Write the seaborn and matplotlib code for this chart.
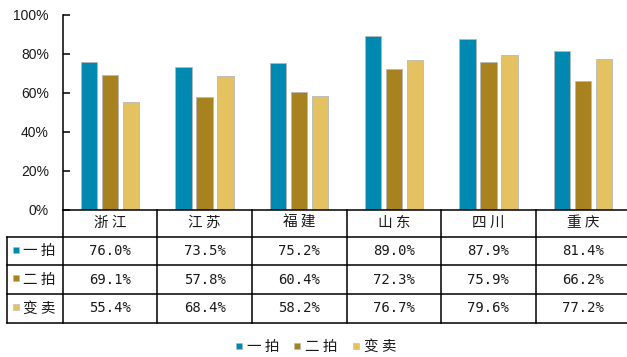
import matplotlib
matplotlib.use("Agg")
import matplotlib.pyplot as plt
import pandas as pd
import seaborn as sns
from matplotlib.lines import Line2D

# Data
provinces = ["浙江", "江苏", "福建", "山东", "四川", "重庆"]
series = ["一拍", "二拍", "变卖"]
first_auction = [76.0, 73.5, 75.2, 89.0, 87.9, 81.4]
second_auction = [69.1, 57.8, 60.4, 72.3, 75.9, 66.2]
sale = [55.4, 68.4, 58.2, 76.7, 79.6, 77.2]
y_ticks = [0, 20, 40, 60, 80, 100]
colors = ["#0089B0", "#A8821F", "#E4C262"]

values = [first_auction, second_auction, sale]
df = pd.DataFrame({
    "省份": provinces * len(series),
    "类型": [s for s in series for _ in provinces],
    "比例": [v for vals in values for v in vals],
})

sns.set_theme(style="white")
plt.rcParams["font.family"] = ["Noto Sans CJK SC", "DejaVu Sans"]
TEXT = "#1a1a1a"
LW = 1.1


def spaced(s):
    """Loosen CJK labels a little, like a wide-set Song face."""
    return " ".join(s)


W, H = 627, 357
fig = plt.figure(figsize=(W / 100, H / 100), dpi=100)


def px_box(left, top, right, bottom):
    return [left / W, 1 - bottom / H, (right - left) / W, (bottom - top) / H]


# plot area (pixel layout)
AX_L, AX_R, AX_T, AX_B = 62.7, 630.3, 15, 209.5
TBL_L, TBL_B = 7.3, 322.5
row_edges = [AX_B, 236.7, 265.3, 294.3, TBL_B]
col_px = (AX_R - AX_L) / len(provinces)

ax = fig.add_axes(px_box(AX_L, AX_T, AX_R, AX_B))
sns.barplot(data=df, x="省份", y="比例", hue="类型", order=provinces,
            hue_order=series, palette=colors, saturation=1, width=0.667,
            gap=0.22, edgecolor="#b8b8b8", linewidth=0.6, errorbar=None,
            legend=False, ax=ax)
ax.set_xlim(-0.5, len(provinces) - 0.5)
ax.set_ylim(0, 100)
ax.set_yticks(y_ticks)
ax.set_yticklabels([f"{t}%" for t in y_ticks], family="Liberation Sans",
                   fontsize=10, color=TEXT)
ax.set_xticks([])
ax.set_xlabel("")
ax.set_ylabel("")
ax.tick_params(axis="y", direction="in", length=5, width=LW, color="black",
               pad=10, left=True)
for side in ["top", "right", "bottom"]:
    ax.spines[side].set_visible(False)
ax.spines["left"].set_color("black")
ax.spines["left"].set_linewidth(LW)

# data table under the bars
tax = fig.add_axes(px_box(TBL_L, AX_B, AX_R, TBL_B))
x_left = -0.5 - (AX_L - TBL_L) / col_px
tax.set_xlim(x_left, len(provinces) - 0.5)
tax.set_ylim(TBL_B, AX_B)
tax.axis("off")

line_kw = dict(color="black", lw=LW, clip_on=False, solid_capstyle="projecting")
tax.plot([-0.5, len(provinces) - 0.5], [row_edges[0]] * 2, **line_kw)
for y in row_edges[1:]:
    tax.plot([x_left, len(provinces) - 0.5], [y, y], **line_kw)
for i in range(len(provinces) + 1):
    tax.plot([i - 0.5] * 2, [row_edges[0], row_edges[-1]], **line_kw)
tax.plot([x_left] * 2, [row_edges[1], row_edges[-1]], **line_kw)

mid = [(a + b) / 2 for a, b in zip(row_edges[:-1], row_edges[1:])]
for i, p in enumerate(provinces):
    tax.text(i, mid[0], spaced(p), ha="center", va="center", fontsize=10.5,
             color=TEXT)
for r, (name, vals, c) in enumerate(zip(series, values, colors)):
    y = mid[r + 1]
    tax.plot([x_left + 9 / col_px], [y - 1.5], marker="s", markersize=5,
             markerfacecolor=c, markeredgecolor="#b8b8b8", markeredgewidth=0.4,
             linestyle="", clip_on=False)
    tax.text(x_left + 16 / col_px, y, spaced(name), ha="left", va="center",
             fontsize=10.5, color=TEXT)
    for i, v in enumerate(vals):
        tax.text(i, y, f"{v:.1f}%", ha="center", va="center",
                 family="DejaVu Sans Mono", fontsize=10, color=TEXT)

# legend
handles = [Line2D([], [], marker="s", linestyle="", markersize=5,
                  markerfacecolor=c, markeredgecolor="#b8b8b8",
                  markeredgewidth=0.4) for c in colors]
fig.legend(handles, [spaced(s) for s in series], loc="center",
           bbox_to_anchor=(315 / W, 1 - 347 / H), ncol=3, frameon=False,
           handlelength=0.7, handletextpad=0.2, columnspacing=0.9,
           fontsize=10.5, labelcolor=TEXT)

fig.savefig("out.png", dpi=100)
